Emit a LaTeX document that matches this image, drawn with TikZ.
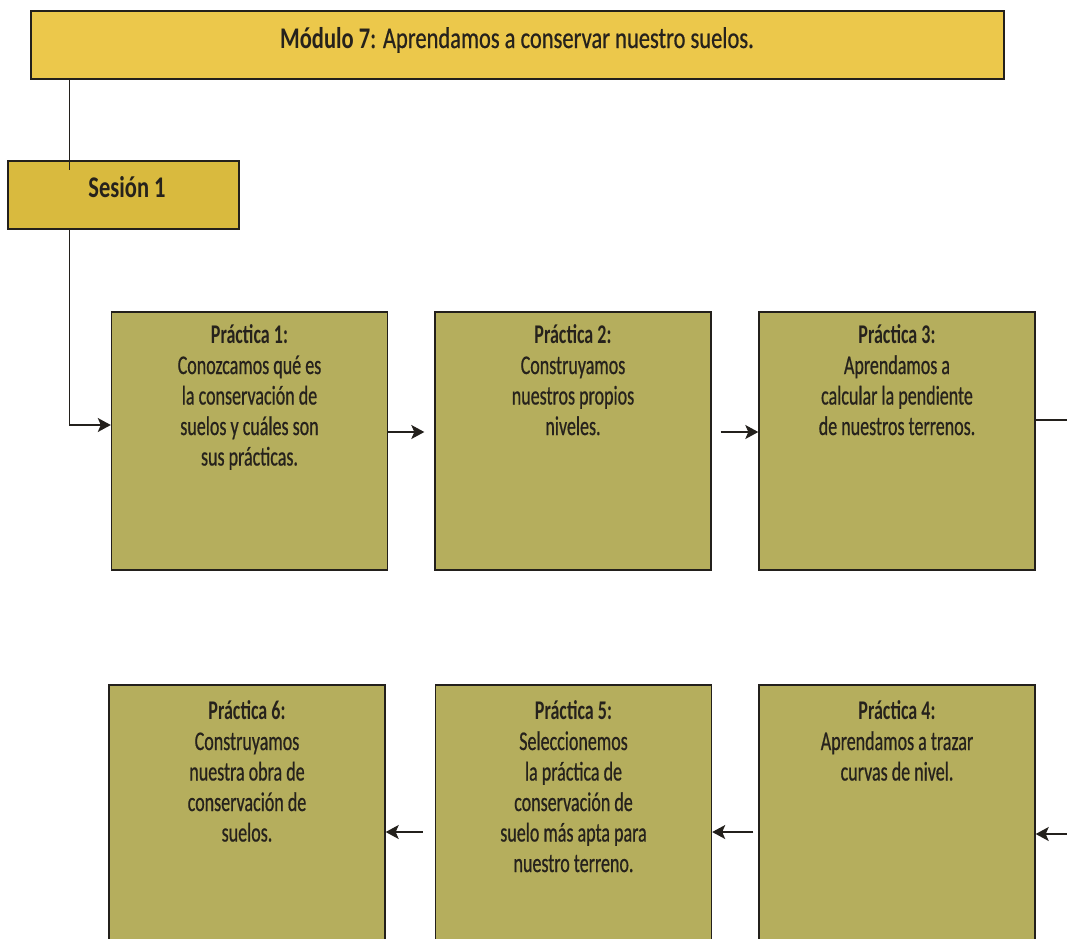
\documentclass[tikz,border=0pt]{standalone}
\usepackage{fontspec}
\setmainfont{Carlito}[FakeStretch=0.75,UprightFeatures={FakeBold=0.6}]
\newfontfamily\cardfont{Carlito}[FakeStretch=0.667,UprightFeatures={FakeBold=0.6}]
\usetikzlibrary{arrows.meta}
\definecolor{titlefill}{RGB}{236,200,75}
\definecolor{sessionfill}{RGB}{217,186,62}
\definecolor{boxfill}{RGB}{181,174,93}
\definecolor{ink}{RGB}{38,34,28}
\definecolor{edge}{RGB}{35,32,28}
\newcommand{\firstline}{\rule{0pt}{24pt}}
\begin{document}
\begin{tikzpicture}[x=1pt,y=-1pt,
  panel/.style={draw=edge,line width=1.4pt,inner sep=0pt},
  practice/.style={panel,fill=boxfill,minimum width=276pt,minimum height=258pt},
  headtxt/.style={text=ink,font=\fontsize{30}{32}\selectfont,anchor=base,inner sep=0pt},
  cardtxt/.style={text=ink,font=\cardfont\fontsize{27}{30.5}\selectfont,align=center,anchor=north,inner sep=0pt},
  wire/.style={draw=edge,line width=1.4pt},
  arr/.style={wire,-{Stealth[length=13pt,width=14pt,inset=3pt]}}]
\clip (0,0) rectangle (1067,938);

% header and session
\node[panel,fill=titlefill,minimum width=973pt,minimum height=68pt] (title) at (517.5,45) {};
\node[headtxt] (titletext) at (517,48) {\textbf{Módulo 7}: Aprendamos a conservar nuestro suelos.};
\node[panel,fill=sessionfill,minimum width=231pt,minimum height=68pt] (sesion) at (123.5,195) {};
\node[headtxt,font=\fontsize{30}{32}\selectfont\bfseries] (sesiontext) at (127,197) {Sesión 1};

% first row of practices
\node[practice] (p1) at (249.5,441) {};
\node[cardtxt] (t1) at ([yshift=-8pt]p1.north) {\firstline\textbf{Práctica 1:}\\Conozcamos qué es\\la conservación de\\suelos y cuáles son\\sus prácticas.};
\node[practice] (p2) at (573,441) {};
\node[cardtxt] (t2) at ([yshift=-8pt]p2.north) {\firstline\textbf{Práctica 2:}\\Construyamos\\nuestros propios\\niveles.};
\node[practice] (p3) at (897,441) {};
\node[cardtxt] (t3) at ([yshift=-8pt]p3.north) {\firstline\textbf{Práctica 3:}\\Aprendamos a\\calcular la pendiente\\de nuestros terrenos.};

% second row of practices
\node[practice] (p6) at (247,814) {};
\node[cardtxt] (t6) at ([yshift=-11pt]p6.north) {\firstline\textbf{Práctica 6:}\\Construyamos\\nuestra obra de\\conservación de\\suelos.};
\node[practice] (p5) at (573.5,814) {};
\node[cardtxt] (t5) at ([yshift=-11pt]p5.north) {\firstline\textbf{Práctica 5:}\\Seleccionemos\\la práctica de\\conservación de\\suelo más apta para\\nuestro terreno.};
\node[practice] (p4) at (897,814) {};
\node[cardtxt] (t4) at ([yshift=-11pt]p4.north) {\firstline\textbf{Práctica 4:}\\Aprendamos a trazar\\curvas de nivel.};

% connectors
\coordinate (outR) at (1067,420);
\coordinate (inR) at (1067,834);
\draw[wire] ([xshift=39pt]title.south west) -- ([xshift=62pt,yshift=-10pt]sesion.north west);
\draw[arr] ([xshift=62pt]sesion.south west) |- ([yshift=16pt]p1.west);
\draw[arr,shorten >=10pt] ([yshift=9pt]p1.east) -- ([yshift=9pt]p2.west);
\draw[arr,shorten <=9pt] ([yshift=9pt]p2.east) -- ([yshift=9pt]p3.west);
\draw[wire] ([yshift=21pt]p3.east) -- (outR);
\draw[arr] (inR) -- (p4.east |- inR);
\draw[arr,shorten <=5pt] ([yshift=-18pt]p4.west) -- ([yshift=-18pt]p5.east);
\draw[arr,shorten <=12pt] ([yshift=-18pt]p5.west) -- ([yshift=-18pt]p6.east);
\end{tikzpicture}
\end{document}
